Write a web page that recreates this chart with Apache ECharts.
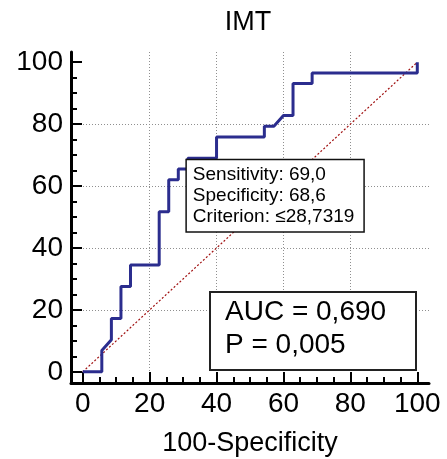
<!DOCTYPE html>
<html>
<head>
<meta charset="utf-8">
<script src="https://cdn.jsdelivr.net/npm/echarts@6/dist/echarts.min.js"></script>
<style>
  html, body { margin: 0; padding: 0; background: #fff; }
  #chart { width: 447px; height: 459px; }
</style>
</head>
<body>
<div id="chart"></div>
<script>
// ROC curve for IMT: false positive rate (100-Specificity) vs true positive rate (Sensitivity)
const fprValues = [0, 5.71, 5.71, 8.57, 8.57, 11.43, 11.43, 14.29, 14.29, 22.86, 22.86, 25.71, 25.71, 28.57, 28.57, 31.43, 31.43, 40.00, 40.00, 54.29, 54.29, 57.14, 60.00, 62.86, 62.86, 68.57, 68.57, 100, 100];
const tprValues = [0, 0, 6.90, 10.34, 17.24, 17.24, 27.59, 27.59, 34.48, 34.48, 51.72, 51.72, 62.07, 62.07, 65.52, 65.52, 68.97, 68.97, 75.86, 75.86, 79.31, 79.31, 82.76, 82.76, 93.10, 93.10, 96.55, 96.55, 100];

// Reference diagonal (no discrimination)
const diagonalX = [0, 100];
const diagonalY = [0, 100];

// Optimal criterion point
const criterionPoint = [31.43, 68.97];
const criterionLines = ['Sensitivity: 69,0', 'Specificity: 68,6', 'Criterion: \u226428,7319'];
const statLines = ['AUC = 0,690', 'P = 0,005'];

const tickValues = [0, 20, 40, 60, 80, 100];
const chartTitle = 'IMT';
const xAxisName = '100-Specificity';

const FONT = 'Liberation Sans, Arial, sans-serif';

const rocData = fprValues.map((x, i) => [x, tprValues[i]]);
const diagData = diagonalX.map((x, i) => [x, diagonalY[i]]);

function valueAxis(extra) {
  return Object.assign({
    type: 'value',
    axisLine: { show: true, onZero: false, lineStyle: { color: '#000', width: 3 } },
    axisTick: { show: true, inside: true, length: 11, customValues: tickValues, lineStyle: { color: '#000', width: 2 } },
    minorTick: { show: true, splitNumber: 4, length: 6, lineStyle: { color: '#000', width: 2 } },
    splitLine: { show: true, showMinLine: false, showMaxLine: false, lineStyle: { color: '#8f8f8f', width: 1, type: [1, 2] } },
    minorSplitLine: { show: false }
  }, extra);
}

const chart = echarts.init(document.getElementById('chart'), null, { renderer: 'canvas' });
chart.setOption({
  animation: false,
  backgroundColor: '#fff',
  title: [{
    text: chartTitle,
    left: 248,
    top: 9,
    padding: 0,
    textAlign: 'center',
    textStyle: { fontFamily: FONT, fontSize: 27, fontWeight: 'normal', color: '#000' }
  }, {
    text: statLines.join('\n'),
    left: 210,
    top: 292,
    padding: [4, 30, 8, 15],
    borderWidth: 2,
    borderColor: '#222',
    backgroundColor: '#fff',
    textStyle: { fontFamily: FONT, fontSize: 28, fontWeight: 'normal', color: '#000', lineHeight: 33 }
  }],
  grid: { left: 71, right: 18, top: 52, bottom: 76, containLabel: false, outerBoundsMode: 'none' },
  xAxis: valueAxis({
    min: -3.5, max: 103.5,
    name: xAxisName,
    nameLocation: 'middle',
    nameGap: 47,
    nameTextStyle: { fontFamily: FONT, fontSize: 27, color: '#000' },
    axisLabel: { customValues: tickValues, color: '#000', fontFamily: FONT, fontSize: 28, margin: 7 }
  }),
  yAxis: valueAxis({
    min: -3.6, max: 103.3,
    axisLabel: { customValues: tickValues, color: '#000', fontFamily: FONT, fontSize: 28, margin: 8 }
  }),
  series: [{
    type: 'line',
    data: diagData,
    symbol: 'none',
    silent: true,
    z: 2,
    lineStyle: { color: '#a01010', width: 1.2, type: [2, 2] }
  }, {
    type: 'line',
    data: rocData,
    symbol: 'none',
    z: 3,
    lineStyle: { color: '#2b2d8e', width: 3 }
  }, {
    type: 'scatter',
    data: [criterionPoint],
    symbolSize: 0,
    z: 5,
    itemStyle: { opacity: 1 },
    label: {
      show: true,
      position: [0, 0],
      offset: [-1, 2],
      align: 'left',
      verticalAlign: 'top',
      formatter: criterionLines.join('\n'),
      fontFamily: FONT,
      fontSize: 19,
      lineHeight: 21,
      color: '#000',
      opacity: 1,
      backgroundColor: '#fff',
      borderColor: '#111',
      borderWidth: 1.5,
      padding: [4, 9, 4, 6]
    }
  }]
});
</script>
</body>
</html>
